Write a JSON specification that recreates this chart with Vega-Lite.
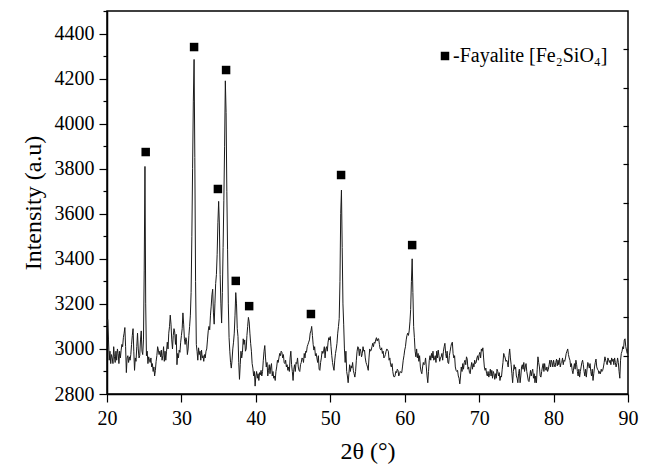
{
"$schema": "https://vega.github.io/schema/vega-lite/v6.json",
"width": 521, "height": 383,
"autosize": "none",
"padding": {"left": 107, "top": 11, "right": 24, "bottom": 72},
"background": "white",
"config": {
  "view": {"stroke": "black", "strokeWidth": 1.5},
  "font": "Liberation Serif",
  "axis": {"labelFont": "Liberation Serif", "titleFont": "Liberation Serif", "labelColor": "black", "titleColor": "black", "domainColor": "black", "tickColor": "black", "grid": false, "titleFontWeight": "normal", "domainWidth": 1.5, "tickWidth": 1.2}
},
"datasets": {
"xrd": [
{"t":20.0,"i":3120},{"t":20.1,"i":3130},{"t":20.2,"i":3040},{"t":20.3,"i":2950},{"t":20.4,"i":2990},{"t":20.5,"i":2935},{"t":20.6,"i":2975},{"t":20.7,"i":2960},{"t":20.8,"i":2935},{"t":20.9,"i":3010},
{"t":21.0,"i":2965},{"t":21.1,"i":2940},{"t":21.2,"i":2990},{"t":21.3,"i":2950},{"t":21.4,"i":3000},{"t":21.5,"i":2980},{"t":21.6,"i":2935},{"t":21.7,"i":2990},{"t":21.8,"i":2960},{"t":21.9,"i":2995},
{"t":22.0,"i":3020},{"t":22.1,"i":3010},{"t":22.2,"i":3050},{"t":22.3,"i":3070},{"t":22.4,"i":3095},{"t":22.5,"i":3010},{"t":22.6,"i":2895},{"t":22.7,"i":2960},{"t":22.8,"i":2970},{"t":22.9,"i":2940},
{"t":23.0,"i":2965},{"t":23.1,"i":2950},{"t":23.2,"i":2975},{"t":23.3,"i":3020},{"t":23.4,"i":3060},{"t":23.5,"i":3090},{"t":23.6,"i":2990},{"t":23.7,"i":2905},{"t":23.8,"i":2960},{"t":23.9,"i":2945},
{"t":24.0,"i":3010},{"t":24.1,"i":3070},{"t":24.2,"i":3000},{"t":24.3,"i":2960},{"t":24.4,"i":2970},{"t":24.5,"i":3040},{"t":24.6,"i":3080},{"t":24.7,"i":2990},{"t":24.8,"i":2975},{"t":24.9,"i":3040},
{"t":25.0,"i":3350},{"t":25.1,"i":3810},{"t":25.2,"i":3200},{"t":25.3,"i":2970},{"t":25.4,"i":2990},{"t":25.5,"i":2935},{"t":25.6,"i":2965},{"t":25.7,"i":2950},{"t":25.8,"i":2940},{"t":25.9,"i":2960},
{"t":26.0,"i":2920},{"t":26.1,"i":2935},{"t":26.2,"i":2900},{"t":26.3,"i":2920},{"t":26.4,"i":2880},{"t":26.5,"i":2905},{"t":26.6,"i":2945},{"t":26.7,"i":2970},{"t":26.8,"i":3010},{"t":26.9,"i":2995},
{"t":27.0,"i":2975},{"t":27.1,"i":2990},{"t":27.2,"i":2965},{"t":27.3,"i":2995},{"t":27.4,"i":2950},{"t":27.5,"i":2970},{"t":27.6,"i":3010},{"t":27.7,"i":2945},{"t":27.8,"i":2990},{"t":27.9,"i":2950},
{"t":28.0,"i":2990},{"t":28.1,"i":3030},{"t":28.2,"i":3000},{"t":28.3,"i":3070},{"t":28.4,"i":3100},{"t":28.5,"i":3150},{"t":28.6,"i":3110},{"t":28.7,"i":3040},{"t":28.8,"i":3000},{"t":28.9,"i":3060},
{"t":29.0,"i":3090},{"t":29.1,"i":3075},{"t":29.2,"i":3020},{"t":29.3,"i":3065},{"t":29.4,"i":2930},{"t":29.5,"i":2980},{"t":29.6,"i":2960},{"t":29.7,"i":2995},{"t":29.8,"i":2985},{"t":29.9,"i":3030},
{"t":30.0,"i":3060},{"t":30.1,"i":3090},{"t":30.2,"i":3160},{"t":30.3,"i":3110},{"t":30.4,"i":3045},{"t":30.5,"i":3020},{"t":30.6,"i":3050},{"t":30.7,"i":3035},{"t":30.8,"i":2975},{"t":30.9,"i":3000},
{"t":31.0,"i":3060},{"t":31.1,"i":3100},{"t":31.2,"i":3150},{"t":31.3,"i":3250},{"t":31.4,"i":3500},{"t":31.5,"i":3800},{"t":31.6,"i":4100},{"t":31.7,"i":4285},{"t":31.8,"i":3850},{"t":31.9,"i":3300},
{"t":32.0,"i":3020},{"t":32.1,"i":2990},{"t":32.2,"i":2950},{"t":32.3,"i":3005},{"t":32.4,"i":2975},{"t":32.5,"i":2990},{"t":32.6,"i":2950},{"t":32.7,"i":2995},{"t":32.8,"i":2960},{"t":32.9,"i":2970},
{"t":33.0,"i":2945},{"t":33.1,"i":2975},{"t":33.2,"i":2960},{"t":33.3,"i":2990},{"t":33.4,"i":3000},{"t":33.5,"i":3040},{"t":33.6,"i":3080},{"t":33.7,"i":3100},{"t":33.8,"i":3085},{"t":33.9,"i":3150},
{"t":34.0,"i":3190},{"t":34.1,"i":3240},{"t":34.2,"i":3265},{"t":34.3,"i":3160},{"t":34.4,"i":3110},{"t":34.5,"i":3200},{"t":34.6,"i":3290},{"t":34.7,"i":3330},{"t":34.8,"i":3420},{"t":34.9,"i":3560},
{"t":35.0,"i":3655},{"t":35.1,"i":3550},{"t":35.2,"i":3330},{"t":35.3,"i":3200},{"t":35.4,"i":3115},{"t":35.5,"i":3250},{"t":35.6,"i":3450},{"t":35.7,"i":3660},{"t":35.8,"i":3900},{"t":35.9,"i":4190},
{"t":36.0,"i":4050},{"t":36.1,"i":3700},{"t":36.2,"i":3440},{"t":36.3,"i":3200},{"t":36.4,"i":3050},{"t":36.5,"i":2990},{"t":36.6,"i":2940},{"t":36.7,"i":2915},{"t":36.8,"i":2950},{"t":36.9,"i":3000},
{"t":37.0,"i":3030},{"t":37.1,"i":3070},{"t":37.2,"i":3150},{"t":37.3,"i":3250},{"t":37.4,"i":3200},{"t":37.5,"i":3090},{"t":37.6,"i":3055},{"t":37.7,"i":2940},{"t":37.8,"i":2865},{"t":37.9,"i":2930},
{"t":38.0,"i":2990},{"t":38.1,"i":2960},{"t":38.2,"i":2985},{"t":38.3,"i":3045},{"t":38.4,"i":3020},{"t":38.5,"i":3040},{"t":38.6,"i":2990},{"t":38.7,"i":3000},{"t":38.8,"i":3060},{"t":38.9,"i":3100},
{"t":39.0,"i":3140},{"t":39.1,"i":3120},{"t":39.2,"i":3070},{"t":39.3,"i":3025},{"t":39.4,"i":2990},{"t":39.5,"i":2935},{"t":39.6,"i":2915},{"t":39.7,"i":2880},{"t":39.8,"i":2900},{"t":39.9,"i":2835},
{"t":40.0,"i":2880},{"t":40.1,"i":2900},{"t":40.2,"i":2870},{"t":40.3,"i":2890},{"t":40.4,"i":2860},{"t":40.5,"i":2895},{"t":40.6,"i":2885},{"t":40.7,"i":2905},{"t":40.8,"i":2880},{"t":40.9,"i":2900},
{"t":41.0,"i":2950},{"t":41.1,"i":2990},{"t":41.2,"i":3015},{"t":41.3,"i":2960},{"t":41.4,"i":2920},{"t":41.5,"i":2940},{"t":41.6,"i":2880},{"t":41.7,"i":2905},{"t":41.8,"i":2930},{"t":41.9,"i":2890},
{"t":42.0,"i":2920},{"t":42.1,"i":2935},{"t":42.2,"i":2880},{"t":42.3,"i":2900},{"t":42.4,"i":2870},{"t":42.5,"i":2880},{"t":42.6,"i":2860},{"t":42.7,"i":2900},{"t":42.8,"i":2920},{"t":42.9,"i":2950},
{"t":43.0,"i":2940},{"t":43.1,"i":2960},{"t":43.2,"i":2980},{"t":43.3,"i":2970},{"t":43.4,"i":2990},{"t":43.5,"i":2985},{"t":43.6,"i":2960},{"t":43.7,"i":2975},{"t":43.8,"i":2940},{"t":43.9,"i":2935},
{"t":44.0,"i":2950},{"t":44.1,"i":2920},{"t":44.2,"i":2930},{"t":44.3,"i":2905},{"t":44.4,"i":2920},{"t":44.5,"i":2900},{"t":44.6,"i":2960},{"t":44.7,"i":2990},{"t":44.8,"i":2930},{"t":44.9,"i":2900},
{"t":45.0,"i":2860},{"t":45.1,"i":2910},{"t":45.2,"i":2930},{"t":45.3,"i":2900},{"t":45.4,"i":2940},{"t":45.5,"i":2935},{"t":45.6,"i":2960},{"t":45.7,"i":2920},{"t":45.8,"i":2905},{"t":45.9,"i":2900},
{"t":46.0,"i":2930},{"t":46.1,"i":2940},{"t":46.2,"i":2960},{"t":46.3,"i":2955},{"t":46.4,"i":2940},{"t":46.5,"i":2980},{"t":46.6,"i":2960},{"t":46.7,"i":2990},{"t":46.8,"i":2985},{"t":46.9,"i":3010},
{"t":47.0,"i":3020},{"t":47.1,"i":3030},{"t":47.2,"i":3040},{"t":47.3,"i":3070},{"t":47.4,"i":3080},{"t":47.5,"i":3100},{"t":47.6,"i":3060},{"t":47.7,"i":3020},{"t":47.8,"i":2995},{"t":47.9,"i":3010},
{"t":48.0,"i":2970},{"t":48.1,"i":2980},{"t":48.2,"i":2960},{"t":48.3,"i":2940},{"t":48.4,"i":2970},{"t":48.5,"i":2910},{"t":48.6,"i":2905},{"t":48.7,"i":2940},{"t":48.8,"i":2960},{"t":48.9,"i":2990},
{"t":49.0,"i":2980},{"t":49.1,"i":2990},{"t":49.2,"i":3010},{"t":49.3,"i":2960},{"t":49.4,"i":3000},{"t":49.5,"i":3010},{"t":49.6,"i":2990},{"t":49.7,"i":3030},{"t":49.8,"i":3050},{"t":49.9,"i":3040},
{"t":50.0,"i":3055},{"t":50.1,"i":3010},{"t":50.2,"i":2970},{"t":50.3,"i":2940},{"t":50.4,"i":2920},{"t":50.5,"i":2905},{"t":50.6,"i":2950},{"t":50.7,"i":2980},{"t":50.8,"i":3000},{"t":50.9,"i":3025},
{"t":51.0,"i":3070},{"t":51.1,"i":3100},{"t":51.2,"i":3135},{"t":51.3,"i":3300},{"t":51.4,"i":3600},{"t":51.5,"i":3705},{"t":51.6,"i":3450},{"t":51.7,"i":3200},{"t":51.8,"i":3110},{"t":51.9,"i":3000},
{"t":52.0,"i":2940},{"t":52.1,"i":2990},{"t":52.2,"i":2900},{"t":52.3,"i":2880},{"t":52.4,"i":2850},{"t":52.5,"i":2890},{"t":52.6,"i":2930},{"t":52.7,"i":2900},{"t":52.8,"i":2925},{"t":52.9,"i":2915},
{"t":53.0,"i":2940},{"t":53.1,"i":2905},{"t":53.2,"i":2890},{"t":53.3,"i":2875},{"t":53.4,"i":2900},{"t":53.5,"i":2950},{"t":53.6,"i":2990},{"t":53.7,"i":3010},{"t":53.8,"i":3005},{"t":53.9,"i":2970},
{"t":54.0,"i":3000},{"t":54.1,"i":2990},{"t":54.2,"i":2965},{"t":54.3,"i":2980},{"t":54.4,"i":3010},{"t":54.5,"i":2990},{"t":54.6,"i":2995},{"t":54.7,"i":2960},{"t":54.8,"i":2940},{"t":54.9,"i":2930},
{"t":55.0,"i":2920},{"t":55.1,"i":2905},{"t":55.2,"i":2960},{"t":55.3,"i":3000},{"t":55.4,"i":2990},{"t":55.5,"i":2995},{"t":55.6,"i":3010},{"t":55.7,"i":3025},{"t":55.8,"i":3010},{"t":55.9,"i":3030},
{"t":56.0,"i":3025},{"t":56.1,"i":3040},{"t":56.2,"i":3050},{"t":56.3,"i":3035},{"t":56.4,"i":3045},{"t":56.5,"i":3045},{"t":56.6,"i":3020},{"t":56.7,"i":3000},{"t":56.8,"i":2995},{"t":56.9,"i":3005},
{"t":57.0,"i":2980},{"t":57.1,"i":2990},{"t":57.2,"i":2960},{"t":57.3,"i":2965},{"t":57.4,"i":2975},{"t":57.5,"i":2990},{"t":57.6,"i":3000},{"t":57.7,"i":2995},{"t":57.8,"i":2990},{"t":57.9,"i":2950},
{"t":58.0,"i":2960},{"t":58.1,"i":2930},{"t":58.2,"i":2920},{"t":58.3,"i":2935},{"t":58.4,"i":2900},{"t":58.5,"i":2880},{"t":58.6,"i":2875},{"t":58.7,"i":2880},{"t":58.8,"i":2900},{"t":58.9,"i":2895},
{"t":59.0,"i":2910},{"t":59.1,"i":2905},{"t":59.2,"i":2880},{"t":59.3,"i":2890},{"t":59.4,"i":2900},{"t":59.5,"i":2895},{"t":59.6,"i":2895},{"t":59.7,"i":2920},{"t":59.8,"i":2950},{"t":59.9,"i":2970},
{"t":60.0,"i":2995},{"t":60.1,"i":3010},{"t":60.2,"i":3040},{"t":60.3,"i":3060},{"t":60.4,"i":3070},{"t":60.5,"i":3060},{"t":60.6,"i":3080},{"t":60.7,"i":3120},{"t":60.8,"i":3175},{"t":60.9,"i":3300},
{"t":61.0,"i":3400},{"t":61.1,"i":3250},{"t":61.2,"i":3100},{"t":61.3,"i":3050},{"t":61.4,"i":2990},{"t":61.5,"i":2965},{"t":61.6,"i":3000},{"t":61.7,"i":2960},{"t":61.8,"i":2980},{"t":61.9,"i":2945},
{"t":62.0,"i":2970},{"t":62.1,"i":2920},{"t":62.2,"i":2900},{"t":62.3,"i":2890},{"t":62.4,"i":2920},{"t":62.5,"i":2940},{"t":62.6,"i":2930},{"t":62.7,"i":2935},{"t":62.8,"i":2960},{"t":62.9,"i":2920},
{"t":63.0,"i":2880},{"t":63.1,"i":2850},{"t":63.2,"i":2900},{"t":63.3,"i":2950},{"t":63.4,"i":2970},{"t":63.5,"i":2950},{"t":63.6,"i":2980},{"t":63.7,"i":2960},{"t":63.8,"i":2990},{"t":63.9,"i":2950},
{"t":64.0,"i":2955},{"t":64.1,"i":2970},{"t":64.2,"i":2940},{"t":64.3,"i":2990},{"t":64.4,"i":2960},{"t":64.5,"i":2995},{"t":64.6,"i":2970},{"t":64.7,"i":2945},{"t":64.8,"i":2960},{"t":64.9,"i":2965},
{"t":65.0,"i":2980},{"t":65.1,"i":2950},{"t":65.2,"i":2990},{"t":65.3,"i":3010},{"t":65.4,"i":3025},{"t":65.5,"i":2980},{"t":65.6,"i":2960},{"t":65.7,"i":2990},{"t":65.8,"i":2940},{"t":65.9,"i":2935},
{"t":66.0,"i":2970},{"t":66.1,"i":2990},{"t":66.2,"i":3010},{"t":66.3,"i":3025},{"t":66.4,"i":3030},{"t":66.5,"i":2980},{"t":66.6,"i":2960},{"t":66.7,"i":2970},{"t":66.8,"i":2920},{"t":66.9,"i":2905},
{"t":67.0,"i":2900},{"t":67.1,"i":2905},{"t":67.2,"i":2880},{"t":67.3,"i":2870},{"t":67.4,"i":2845},{"t":67.5,"i":2880},{"t":67.6,"i":2920},{"t":67.7,"i":2900},{"t":67.8,"i":2935},{"t":67.9,"i":2910},
{"t":68.0,"i":2940},{"t":68.1,"i":2950},{"t":68.2,"i":2930},{"t":68.3,"i":2965},{"t":68.4,"i":2955},{"t":68.5,"i":2910},{"t":68.6,"i":2920},{"t":68.7,"i":2895},{"t":68.8,"i":2890},{"t":68.9,"i":2920},
{"t":69.0,"i":2940},{"t":69.1,"i":2910},{"t":69.2,"i":2935},{"t":69.3,"i":2920},{"t":69.4,"i":2950},{"t":69.5,"i":2935},{"t":69.6,"i":2940},{"t":69.7,"i":2960},{"t":69.8,"i":2970},{"t":69.9,"i":2950},
{"t":70.0,"i":2975},{"t":70.1,"i":2985},{"t":70.2,"i":2960},{"t":70.3,"i":3000},{"t":70.4,"i":2990},{"t":70.5,"i":3005},{"t":70.6,"i":2960},{"t":70.7,"i":2920},{"t":70.8,"i":2905},{"t":70.9,"i":2915},
{"t":71.0,"i":2890},{"t":71.1,"i":2880},{"t":71.2,"i":2900},{"t":71.3,"i":2875},{"t":71.4,"i":2890},{"t":71.5,"i":2910},{"t":71.6,"i":2880},{"t":71.7,"i":2905},{"t":71.8,"i":2870},{"t":71.9,"i":2900},
{"t":72.0,"i":2890},{"t":72.1,"i":2865},{"t":72.2,"i":2890},{"t":72.3,"i":2870},{"t":72.4,"i":2910},{"t":72.5,"i":2900},{"t":72.6,"i":2880},{"t":72.7,"i":2895},{"t":72.8,"i":2860},{"t":72.9,"i":2880},
{"t":73.0,"i":2875},{"t":73.1,"i":2910},{"t":73.2,"i":2940},{"t":73.3,"i":2980},{"t":73.4,"i":2970},{"t":73.5,"i":2960},{"t":73.6,"i":2945},{"t":73.7,"i":2950},{"t":73.8,"i":2940},{"t":73.9,"i":2920},
{"t":74.0,"i":2970},{"t":74.1,"i":3000},{"t":74.2,"i":2960},{"t":74.3,"i":2930},{"t":74.4,"i":2890},{"t":74.5,"i":2850},{"t":74.6,"i":2900},{"t":74.7,"i":2930},{"t":74.8,"i":2910},{"t":74.9,"i":2920},
{"t":75.0,"i":2880},{"t":75.1,"i":2870},{"t":75.2,"i":2850},{"t":75.3,"i":2890},{"t":75.4,"i":2910},{"t":75.5,"i":2850},{"t":75.6,"i":2880},{"t":75.7,"i":2920},{"t":75.8,"i":2930},{"t":75.9,"i":2910},
{"t":76.0,"i":2940},{"t":76.1,"i":2900},{"t":76.2,"i":2920},{"t":76.3,"i":2935},{"t":76.4,"i":2900},{"t":76.5,"i":2880},{"t":76.6,"i":2860},{"t":76.7,"i":2855},{"t":76.8,"i":2880},{"t":76.9,"i":2905},
{"t":77.0,"i":2880},{"t":77.1,"i":2900},{"t":77.2,"i":2910},{"t":77.3,"i":2870},{"t":77.4,"i":2890},{"t":77.5,"i":2850},{"t":77.6,"i":2880},{"t":77.7,"i":2850},{"t":77.8,"i":2910},{"t":77.9,"i":2965},
{"t":78.0,"i":2940},{"t":78.1,"i":2920},{"t":78.2,"i":2880},{"t":78.3,"i":2875},{"t":78.4,"i":2900},{"t":78.5,"i":2920},{"t":78.6,"i":2935},{"t":78.7,"i":2900},{"t":78.8,"i":2935},{"t":78.9,"i":2910},
{"t":79.0,"i":2905},{"t":79.1,"i":2920},{"t":79.2,"i":2900},{"t":79.3,"i":2910},{"t":79.4,"i":2930},{"t":79.5,"i":2950},{"t":79.6,"i":2920},{"t":79.7,"i":2950},{"t":79.8,"i":2940},{"t":79.9,"i":2920},
{"t":80.0,"i":2950},{"t":80.1,"i":2930},{"t":80.2,"i":2920},{"t":80.3,"i":2940},{"t":80.4,"i":2955},{"t":80.5,"i":2925},{"t":80.6,"i":2950},{"t":80.7,"i":2930},{"t":80.8,"i":2960},{"t":80.9,"i":2920},
{"t":81.0,"i":2935},{"t":81.1,"i":2940},{"t":81.2,"i":2960},{"t":81.3,"i":2930},{"t":81.4,"i":2950},{"t":81.5,"i":2945},{"t":81.6,"i":2960},{"t":81.7,"i":2980},{"t":81.8,"i":2990},{"t":81.9,"i":3000},
{"t":82.0,"i":2975},{"t":82.1,"i":2960},{"t":82.2,"i":2950},{"t":82.3,"i":2920},{"t":82.4,"i":2935},{"t":82.5,"i":2905},{"t":82.6,"i":2890},{"t":82.7,"i":2915},{"t":82.8,"i":2935},{"t":82.9,"i":2910},
{"t":83.0,"i":2950},{"t":83.1,"i":2930},{"t":83.2,"i":2900},{"t":83.3,"i":2880},{"t":83.4,"i":2910},{"t":83.5,"i":2875},{"t":83.6,"i":2900},{"t":83.7,"i":2920},{"t":83.8,"i":2940},{"t":83.9,"i":2950},
{"t":84.0,"i":2930},{"t":84.1,"i":2900},{"t":84.2,"i":2880},{"t":84.3,"i":2910},{"t":84.4,"i":2875},{"t":84.5,"i":2910},{"t":84.6,"i":2940},{"t":84.7,"i":2930},{"t":84.8,"i":2915},{"t":84.9,"i":2935},
{"t":85.0,"i":2900},{"t":85.1,"i":2880},{"t":85.2,"i":2910},{"t":85.3,"i":2860},{"t":85.4,"i":2890},{"t":85.5,"i":2920},{"t":85.6,"i":2940},{"t":85.7,"i":2955},{"t":85.8,"i":2920},{"t":85.9,"i":2910},
{"t":86.0,"i":2905},{"t":86.1,"i":2890},{"t":86.2,"i":2900},{"t":86.3,"i":2890},{"t":86.4,"i":2910},{"t":86.5,"i":2900},{"t":86.6,"i":2905},{"t":86.7,"i":2920},{"t":86.8,"i":2940},{"t":86.9,"i":2965},
{"t":87.0,"i":2950},{"t":87.1,"i":2940},{"t":87.2,"i":2930},{"t":87.3,"i":2960},{"t":87.4,"i":2950},{"t":87.5,"i":2940},{"t":87.6,"i":2950},{"t":87.7,"i":2930},{"t":87.8,"i":2960},{"t":87.9,"i":2945},
{"t":88.0,"i":2955},{"t":88.1,"i":2930},{"t":88.2,"i":2960},{"t":88.3,"i":2940},{"t":88.4,"i":2920},{"t":88.5,"i":2935},{"t":88.6,"i":2960},{"t":88.7,"i":2940},{"t":88.8,"i":2900},{"t":88.9,"i":2870},
{"t":89.0,"i":2950},{"t":89.1,"i":2980},{"t":89.2,"i":2990},{"t":89.3,"i":3010},{"t":89.4,"i":3000},{"t":89.5,"i":3040},{"t":89.6,"i":3045},{"t":89.7,"i":3010},{"t":89.8,"i":2995},{"t":89.9,"i":2980},
{"t":90.0,"i":3000}
],
"peaks": [
{"t":25.2,"i":3874,"phase":"-Fayalite [Fe₂SiO₄]"},
{"t":31.7,"i":4340,"phase":"-Fayalite [Fe₂SiO₄]"},
{"t":34.9,"i":3710,"phase":"-Fayalite [Fe₂SiO₄]"},
{"t":36.0,"i":4238,"phase":"-Fayalite [Fe₂SiO₄]"},
{"t":37.3,"i":3302,"phase":"-Fayalite [Fe₂SiO₄]"},
{"t":39.1,"i":3190,"phase":"-Fayalite [Fe₂SiO₄]"},
{"t":47.4,"i":3155,"phase":"-Fayalite [Fe₂SiO₄]"},
{"t":51.45,"i":3772,"phase":"-Fayalite [Fe₂SiO₄]"},
{"t":61.0,"i":3461,"phase":"-Fayalite [Fe₂SiO₄]"}
]
},
"resolve": {"axis": {"y": "independent"}},
"layer": [
{
  "data": {"name": "xrd"},
  "mark": {"type": "line", "color": "#1a1a1a", "strokeWidth": 1, "clip": true},
  "encoding": {
    "x": {"field": "t", "type": "quantitative", "scale": {"domain": [20, 90], "nice": false, "zero": false},
      "axis": {"title": "2θ (°)", "titleFontSize": 24, "titlePadding": 11, "labelFontSize": 20, "labelPadding": 6,
        "values": [20,25,30,35,40,45,50,55,60,65,70,75,80,85,90], "format": "d",
        "labelExpr": "datum.value % 10 === 0 ? datum.label : ''",
        "tickSize": {"condition": {"test": "datum.value % 10 === 0", "value": 8}, "value": 4},
        "labelFlush": false, "labelOverlap": false}},
    "y": {"field": "i", "type": "quantitative", "scale": {"domain": [2800, 4500], "nice": false, "zero": false},
      "axis": {"orient": "left", "title": "Intensity (a.u)", "titleFontSize": 24, "titlePadding": 9, "labelFontSize": 20, "labelPadding": 5,
        "values": [2800,2900,3000,3100,3200,3300,3400,3500,3600,3700,3800,3900,4000,4100,4200,4300,4400,4500], "format": "d",
        "labelExpr": "datum.value % 200 === 0 && datum.value < 4500 ? datum.label : ''",
        "tickSize": {"condition": {"test": "datum.value % 200 === 0", "value": 8}, "value": 4},
        "labelFlush": false, "labelOverlap": false}}
  }
},
{
  "data": {"name": "peaks"},
  "mark": {"type": "point", "shape": "square", "filled": true, "size": 72, "opacity": 1},
  "encoding": {
    "x": {"field": "t", "type": "quantitative"},
    "y": {"field": "i", "type": "quantitative",
      "axis": {"orient": "right", "title": null, "labels": false, "domain": false, "tickSize": -5,
        "values": [2970,3140,3310,3480,3650,3820,3990,4160,4330]}},
    "shape": {"field": "phase", "type": "nominal", "scale": {"range": ["square"]},
      "legend": {"title": null, "orient": "none", "legendX": 328, "legendY": 35, "padding": 0,
        "labelFont": "Liberation Serif", "labelFontSize": 20, "labelColor": "black", "labelOffset": -2,
        "symbolFillColor": "black", "symbolStrokeWidth": 0, "symbolSize": 72, "labelLimit": 400}},
    "color": {"value": "black"}
  }
}
]
}
